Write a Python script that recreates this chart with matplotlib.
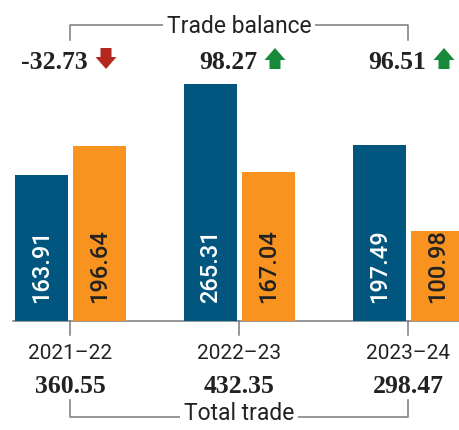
import matplotlib
matplotlib.use("Agg")
import matplotlib.pyplot as plt
from matplotlib import font_manager
from matplotlib.patches import Polygon

### Data (USD billion)
years = ["2021–22", "2022–23", "2023–24"]
exports = [163.91, 265.31, 197.49]
imports = [196.64, 167.04, 100.98]
trade_balance = [-32.73, 98.27, 96.51]
total_trade = [360.55, 432.35, 298.47]

blue = "#00567f"
orange = "#f7931e"
grey = "#7a7a7a"
ink = "#222222"
up_green = "#168a3a"
down_red = "#b3271e"

# Pick a condensed sans if there is one
names = {f.name for f in font_manager.fontManager.ttflist}
narrow = "Liberation Sans Narrow" if "Liberation Sans Narrow" in names else "Roboto"
serif = "Liberation Serif"

W, H = 460, 430
fig = plt.figure(figsize=(W / 100, H / 100), dpi=100)

# one category step is ~169 px, first group centre at x=70 px
step = 169.0
px = 1 / step
xlim = (-70 * px, (W - 70) * px)
base_px = 321  # baseline, pixels from the top
scale = 0.892  # px per unit

ax = fig.add_axes([0, (H - base_px) / H, 1, base_px / H])
ax.set_xlim(*xlim)
ax.set_ylim(0, base_px / scale)
ax.axis("off")

# overlay in pixel y for the labels and brackets
ann = fig.add_axes([0, 0, 1, 1], zorder=-1)
ann.set_xlim(*xlim)
ann.set_ylim(H, 0)
ann.axis("off")

x = list(range(len(years)))
bw = 53 * px
off_b = -28.5 * px
off_o = 29.5 * px

ax.bar([i + off_b for i in x], exports, width=bw, color=blue, zorder=3)
ax.bar([i + off_o for i in x], imports, width=bw, color=orange, zorder=3)

for i in x:
    ax.text(i + off_b, 20, f"{exports[i]:.2f}", rotation=90, ha="center",
            va="bottom", color="white", fontsize=17, family=narrow,
            weight="medium", zorder=4)
    ax.text(i + off_o, 20, f"{imports[i]:.2f}", rotation=90, ha="center",
            va="bottom", color=ink, fontsize=17, family=narrow,
            weight="medium", zorder=4)

# baseline and ticks
lw = 1.1
ann.plot([-57 * px, xlim[1]], [base_px, base_px], color=grey, lw=lw)
for i in x:
    ann.plot([i, i], [base_px, 335], color=grey, lw=lw)

# year labels and total trade
for i in x:
    ann.text(i, 359, years[i], ha="center", va="baseline", fontsize=15,
             family=narrow, color=ink)
    ann.text(i, 393, f"{total_trade[i]:.2f}", ha="center", va="baseline",
             fontsize=18.5, family=serif, weight="bold", color=ink)

# Total trade bracket
ann.plot([x[0], x[0], x[-1], x[-1]], [400, 417, 417, 400], color=grey, lw=lw)
ann.text(x[1], 420, "Total trade", ha="center", va="baseline", fontsize=16.5,
         family=narrow, color=ink,
         bbox=dict(facecolor="white", edgecolor="none", pad=3))

# Trade balance bracket
ann.plot([x[0], x[0], x[-1], x[-1]], [40, 25, 25, 40], color=grey, lw=lw)
ann.text(x[1], 33, "Trade balance", ha="center", va="baseline", fontsize=16.5,
         family=narrow, color=ink,
         bbox=dict(facecolor="white", edgecolor="none", pad=3))

# trade balance values with arrows
for i in x:
    v = trade_balance[i]
    ann.text(i + 18 * px, 69, f"{v:.2f}", ha="right", va="baseline",
             fontsize=18.5, family=serif, weight="bold", color=ink)
    cx = i + 36 * px
    hw, sw = 10.5 * px, 5.5 * px
    top, bot = 48, 69
    if v >= 0:
        neck = top + 12
        pts = [(cx, top), (cx + hw, neck), (cx + sw, neck), (cx + sw, bot),
               (cx - sw, bot), (cx - sw, neck), (cx - hw, neck)]
        col = up_green
    else:
        neck = bot - 12
        pts = [(cx, bot), (cx + hw, neck), (cx + sw, neck), (cx + sw, top),
               (cx - sw, top), (cx - sw, neck), (cx - hw, neck)]
        col = down_red
    ann.add_patch(Polygon(pts, closed=True, color=col, lw=0))

fig.savefig("out.png", dpi=100)
